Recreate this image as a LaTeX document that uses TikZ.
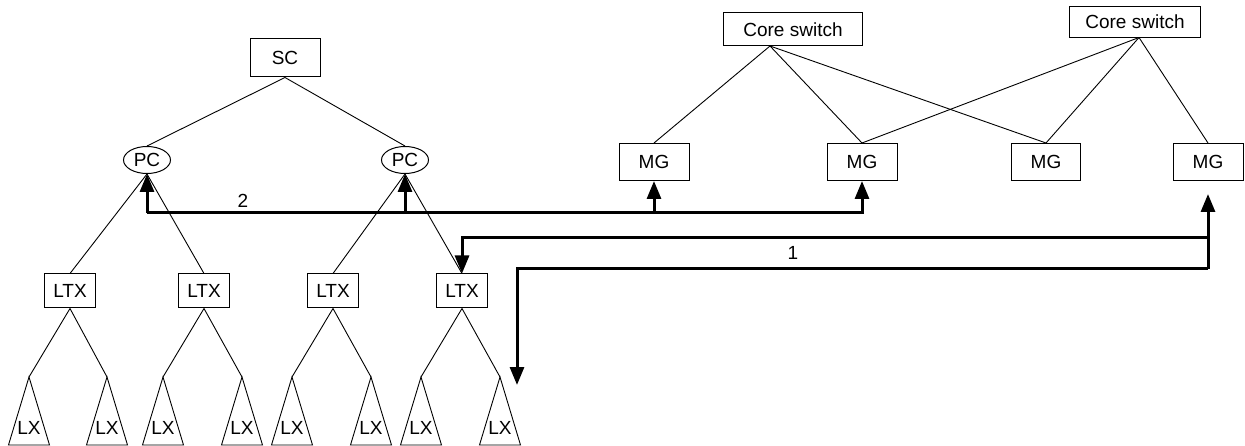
\documentclass[tikz,border=0pt]{standalone}
\usepackage{fontspec}
\setmainfont{Liberation Sans}
\usetikzlibrary{arrows.meta,shapes.geometric,calc}
\begin{document}
\begin{tikzpicture}[x=1pt,y=-1pt,
  every node/.style={font=\fontsize{19}{22}\selectfont, inner sep=0pt},
  box/.style={draw, line width=1pt, rectangle, anchor=center},
  oval/.style={draw, line width=1pt, ellipse, minimum width=47pt, minimum height=27pt},
  thin/.style={line width=0.9pt},
  bold/.style={line width=3pt},
  tip/.style={-{Triangle[width=14pt,length=18pt]}},
  tri/.style={line width=0.9pt}
]
\useasboundingbox (0,0) rectangle (1245,446);
% top nodes
\node[box, minimum width=70pt, minimum height=38pt] (sc) at (285,58) {SC};
\node[oval] (pc1) at (147,160) {PC};
\node[oval] (pc2) at (405,160) {PC};
\node[box, minimum width=139pt, minimum height=33pt] (cs1) at (793,29.5) {Core switch};
\node[box, minimum width=131pt, minimum height=31pt] (cs2) at (1135,22) {Core switch};
\coordinate (cs1b) at (770,46);
\coordinate (cs2b) at (1139,37.5);
\node[box, minimum width=70pt, minimum height=37pt] (mg1) at (654,162) {MG};
\node[box, minimum width=70pt, minimum height=37pt] (mg2) at (862,162) {MG};
\node[box, minimum width=69pt, minimum height=37pt] (mg3) at (1046,162) {MG};
\node[box, minimum width=70pt, minimum height=37pt] (mg4) at (1208,162) {MG};
% LTX
\node[box, minimum width=51pt, minimum height=34pt] (l1) at (70,291) {LTX};
\node[box, minimum width=51pt, minimum height=34pt] (l2) at (204,291) {LTX};
\node[box, minimum width=51pt, minimum height=34pt] (l3) at (333,291) {LTX};
\node[box, minimum width=51pt, minimum height=34pt] (l4) at (462,291) {LTX};
% tree lines
\draw[thin] (sc.south) -- (pc1.north);
\draw[thin] (sc.south) -- (pc2.north);
\draw[thin] (pc1.south) -- (l1.north);
\draw[thin] (pc1.south) -- (l2.north);
\draw[thin] (pc2.south) -- (l3.north);
\draw[thin] (pc2.south) -- (l4.north);
\draw[thin] (cs1b) -- (mg1.north);
\draw[thin] (cs1b) -- (mg2.north);
\draw[thin] (cs1b) -- (mg3.north);
\draw[thin] (cs2b) -- (mg2.north);
\draw[thin] (cs2b) -- (mg3.north);
\draw[thin] (cs2b) -- (mg4.north);
% LX triangles
\foreach \i/\x/\p in {1/29/l1,2/107/l1,3/163/l2,4/242/l2,5/292/l3,6/371/l3,7/421/l4,8/500/l4}{
  \coordinate (t\i) at (\x,377);
  \draw[thin] (\p.south) -- (t\i);
  \draw[tri] (t\i) -- ++(-20.5,68) -- ++(41,0) -- cycle;
  \node (lx\i) at (\x,428) {LX};
}
% arrow 2
\coordinate (bus2) at (0,213);
\draw[bold, tip] (pc1.south |- bus2) -- (pc1.south);
\draw[bold, tip] (pc1.south |- bus2) -- (mg2.south |- bus2) -- (mg2.south);
\draw[bold, tip] (pc2.south |- bus2) -- (pc2.south);
\draw[bold, tip] (mg1.south |- bus2) -- (mg1.south);
\node (lab2) at (243,201) {2};
% arrow 1
\coordinate (busa) at (0,238);
\coordinate (busb) at (0,269);
\coordinate (dst) at (517,385);
\draw[bold, tip, shorten >=13pt] (mg4.south |- busb) -- (mg4.south);
\draw[bold, tip] (mg4.south |- busa) -- (l4.north |- busa) -- (l4.north);
\draw[bold, tip] (mg4.south |- busb) -- (dst |- busb) -- (dst);
\node (lab1) at (793,253) {1};
\end{tikzpicture}
\end{document}
